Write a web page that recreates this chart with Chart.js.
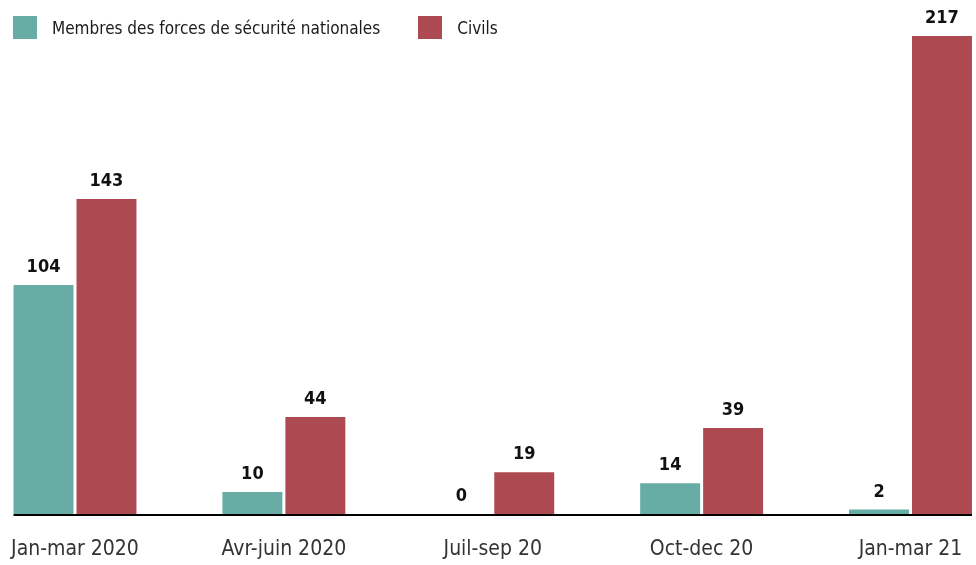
<!DOCTYPE html>
<html>
<head>
<meta charset="utf-8">
<script src="https://cdn.jsdelivr.net/npm/chart.js@4"></script>
<style>
  html, body { margin: 0; padding: 0; background: #fff; overflow: hidden; }
  #wrap { position: relative; width: 976px; height: 565px; }
  #legend { position: absolute; left: 13px; top: 16px; display: flex; align-items: center;
            font-family: "Liberation Sans Narrow", "DejaVu Sans Condensed", sans-serif; font-size: 17px; color: #1a1a1a; }
  .box { width: 24px; height: 23px; display: inline-block; margin-right: 15px; }
  .item { display: flex; align-items: center; margin-right: 38px; }
</style>
</head>
<body>
<div id="wrap">
  <canvas id="chart" width="976" height="565"></canvas>
  <div id="legend"></div>
</div>
<script>
// Data
const categories = ['Jan-mar 2020', 'Avr-juin 2020', 'Juil-sep 20', 'Oct-dec 20', 'Jan-mar 21'];
const forcesValues = [104, 10, 0, 14, 2];
const civilsValues = [143, 44, 19, 39, 217];
const seriesNames = ['Membres des forces de sécurité nationales', 'Civils'];
const seriesColors = ['rgb(103, 173, 165)', 'rgb(173, 73, 80)'];

const FONT = '"Liberation Sans Narrow", "DejaVu Sans Condensed", sans-serif';

// HTML legend
const legendEl = document.getElementById('legend');
seriesNames.forEach((name, i) => {
    const item = document.createElement('span');
    item.className = 'item';
    item.innerHTML = `<span class="box" style="background:${seriesColors[i]}"></span><span>${name}</span>`;
    legendEl.appendChild(item);
});

/**
 * Value labels above each bar
 */
const valueLabels = {
    id: 'valueLabels',
    afterDatasetsDraw(chart) {
        const ctx = chart.ctx;
        ctx.save();
        ctx.font = `bold 18px ${FONT}`;
        ctx.fillStyle = '#111';
        ctx.textAlign = 'center';
        ctx.textBaseline = 'alphabetic';
        chart.data.datasets.forEach((ds, di) => {
            chart.getDatasetMeta(di).data.forEach((bar, i) => {
                ctx.fillText(String(ds.data[i]), bar.x, bar.y - 13);
            });
        });
        ctx.restore();
    }
};

/**
 * Baseline from the first bar to the last bar, plus category labels under it
 */
const baseAxis = {
    id: 'baseAxis',
    afterDatasetsDraw(chart) {
        const first = chart.getDatasetMeta(0).data[0];
        const lastMeta = chart.getDatasetMeta(chart.data.datasets.length - 1).data;
        const last = lastMeta[lastMeta.length - 1];
        const y = chart.scales.y.getPixelForValue(0);
        const ctx = chart.ctx;
        ctx.save();
        ctx.strokeStyle = '#000';
        ctx.lineWidth = 2;
        ctx.beginPath();
        ctx.moveTo(first.x - first.width / 2, y + 1);
        ctx.lineTo(last.x + last.width / 2, y + 1);
        ctx.stroke();

        const xScale = chart.scales.x;
        ctx.font = `21px ${FONT}`;
        ctx.fillStyle = '#333';
        ctx.textAlign = 'center';
        ctx.textBaseline = 'alphabetic';
        chart.data.labels.forEach((label, i) => {
            ctx.fillText(label, xScale.getPixelForTick(i), y + 41);
        });
        ctx.restore();
    }
};

new Chart(document.getElementById('chart'), {
    type: 'bar',
    data: {
        labels: categories,
        datasets: [
            { label: seriesNames[0], data: forcesValues, backgroundColor: seriesColors[0], clip: false,
              categoryPercentage: 0.603, barPercentage: 0.952 },
            { label: seriesNames[1], data: civilsValues, backgroundColor: seriesColors[1], clip: false,
              categoryPercentage: 0.603, barPercentage: 0.952 }
        ]
    },
    options: {
        responsive: false,
        animation: false,
        layout: { padding: { left: 75, right: 65.5, top: 36, bottom: 43 } },
        plugins: {
            legend: { display: false },
            tooltip: { enabled: false }
        },
        scales: {
            x: {
                offset: false,
                grid: { display: false },
                border: { display: false },
                ticks: { display: false }
            },
            y: {
                display: false,
                min: 0,
                max: 217
            }
        }
    },
    plugins: [valueLabels, baseAxis]
});
</script>
</body>
</html>
